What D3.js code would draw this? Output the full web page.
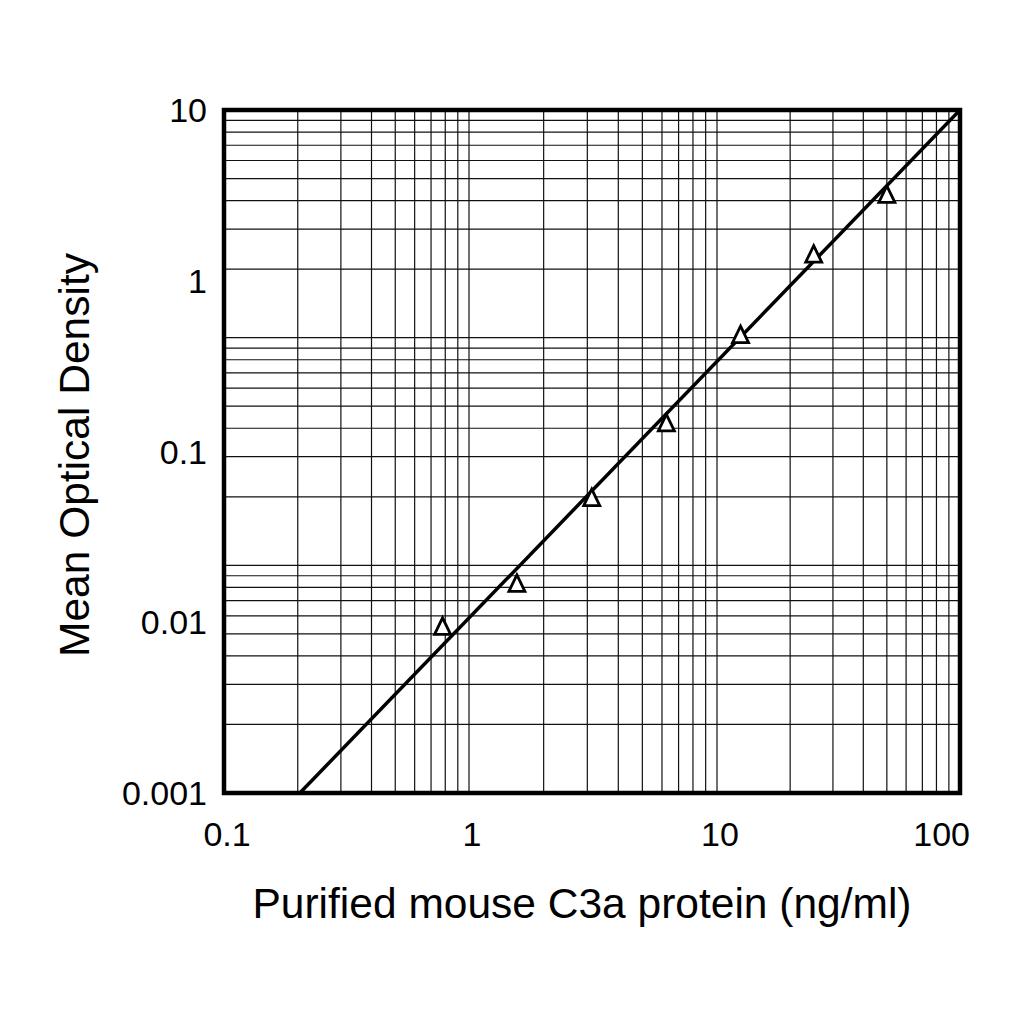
<!DOCTYPE html>
<html>
<head>
<meta charset="utf-8">
<script src="https://cdn.jsdelivr.net/npm/d3@7"></script>
<style>
  body { margin: 0; background: #fff; }
  text { font-family: "Liberation Sans", Arial, Helvetica, sans-serif; fill: #000; }
</style>
</head>
<body>
<div id="chart"></div>
<script>
// standard curve points
const concentration = [0.78, 1.56, 3.125, 6.25, 12.5, 25, 50];
const meanOD = [0.0096, 0.0171, 0.0544, 0.149, 0.49, 1.45, 3.25];

// fitted line end points
const fitX = [0.204, 100];
const fitY = [0.001, 10];

// axis ticks
const xTicks = [0.1, 1, 10, 100];
const xTickLabels = ["0.1", "1", "10", "100"];
const yTicks = [0.001, 0.01, 0.1, 1, 10];
const yTickLabels = ["0.001", "0.01", "0.1", "1", "10"];

// the horizontal grid is 3-cycle log paper under 4 labelled decades
const yGridDomain = [1, 1000];

function drawChart() {
    const margin = { top: 110, right: 64, bottom: 231, left: 224 },
          width = 1024 - margin.left - margin.right,
          height = 1024 - margin.top - margin.bottom;

    const svg = d3.select("#chart").append("svg")
        .attr("width", 1024)
        .attr("height", 1024)
        .append("g")
        .attr("transform", `translate(${margin.left},${margin.top})`);

    const xScale = d3.scaleLog()
        .domain([0.1, 1, 10, 100])
        .range([0, 245, 493, width]);

    const yScale = d3.scaleLog()
        .domain([0.001, 10])
        .range([height, 0]);

    const yGrid = d3.scaleLog()
        .domain(yGridDomain)
        .range([height, 0]);

    // grid lines
    svg.selectAll(".vgrid")
        .data(xScale.ticks().filter(d => d > 0.1 && d < 100))
        .enter().append("line")
        .attr("class", "vgrid")
        .attr("x1", d => xScale(d)).attr("x2", d => xScale(d))
        .attr("y1", 0).attr("y2", height)
        .attr("stroke", "#111")
        .attr("stroke-width", 1.2);

    svg.selectAll(".hgrid")
        .data(yGrid.ticks().filter(d => d > 1 && d < 1000))
        .enter().append("line")
        .attr("class", "hgrid")
        .attr("y1", d => yGrid(d)).attr("y2", d => yGrid(d))
        .attr("x1", 0).attr("x2", width)
        .attr("stroke", "#111")
        .attr("stroke-width", 1.2);

    // fitted line
    svg.append("defs").append("clipPath").attr("id", "clip")
        .append("rect").attr("width", width).attr("height", height);

    svg.append("path")
        .datum(fitX.map((x, i) => [x, fitY[i]]))
        .attr("clip-path", "url(#clip)")
        .attr("fill", "none")
        .attr("stroke", "#000")
        .attr("stroke-width", 3.5)
        .attr("d", d3.line().x(d => xScale(d[0])).y(d => yScale(d[1])));

    // frame
    svg.append("rect")
        .attr("width", width)
        .attr("height", height)
        .attr("fill", "none")
        .attr("stroke", "#000")
        .attr("stroke-width", 4.5);

    // points (open triangles)
    svg.selectAll(".point")
        .data(concentration.map((c, i) => [c, meanOD[i]]))
        .enter().append("path")
        .attr("class", "point")
        .attr("transform", d => `translate(${xScale(d[0])},${yScale(d[1]) + 1})`)
        .attr("d", "M0,-8.5L8,8L-8,8Z")
        .attr("fill", "#fff")
        .attr("stroke", "#000")
        .attr("stroke-width", 2.8);

    // tick labels
    svg.selectAll(".xlab")
        .data(xTicks)
        .enter().append("text")
        .attr("class", "xlab")
        .attr("x", (d, i) => i === xTicks.length - 1 ? xScale(d) + 10 : xScale(d) + 3)
        .attr("y", height + 53)
        .attr("text-anchor", (d, i) => i === xTicks.length - 1 ? "end" : "middle")
        .style("font-size", "34px")
        .text((d, i) => xTickLabels[i]);

    svg.selectAll(".ylab")
        .data(yTicks)
        .enter().append("text")
        .attr("class", "ylab")
        .attr("x", -17)
        .attr("y", d => yScale(d))
        .attr("dy", "0.36em")
        .attr("text-anchor", "end")
        .style("font-size", "34px")
        .text((d, i) => yTickLabels[i]);

    // axis titles
    svg.append("text")
        .attr("text-anchor", "middle")
        .attr("x", 582 - margin.left)
        .attr("y", 918 - margin.top)
        .style("font-size", "42.5px")
        .text("Purified mouse C3a protein (ng/ml)");

    svg.append("text")
        .attr("text-anchor", "middle")
        .attr("transform", "rotate(-90)")
        .attr("x", -(455 - margin.top))
        .attr("y", 89 - margin.left)
        .style("font-size", "42.5px")
        .text("Mean Optical Density");
}

drawChart();
</script>
</body>
</html>
